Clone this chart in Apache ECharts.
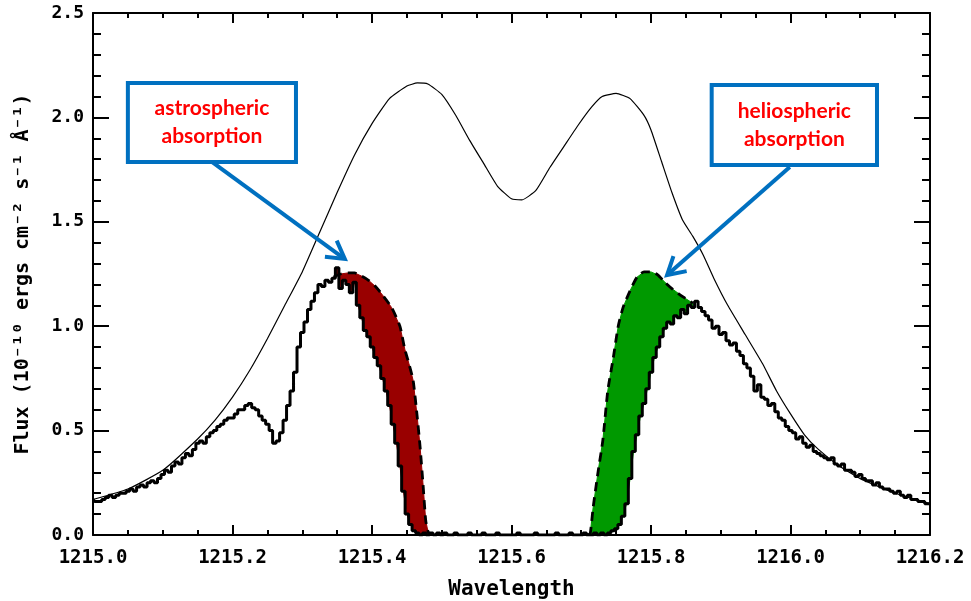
<!DOCTYPE html>
<html>
<head>
<meta charset="utf-8">
<script src="https://cdn.jsdelivr.net/npm/echarts@6/dist/echarts.min.js"></script>
<style>
html,body{margin:0;padding:0;background:#fff;}
#chart{width:971px;height:601px;}
</style>
</head>
<body>
<div id="chart"></div>
<script>
// ---------- DATA ----------
const obsStart = 1215.0;
const obsStep = 0.005;
// observed flux (histogram bins, 0.005 A apart, 1215.000 .. 1216.200)
const observedFlux = [
  0.17,0.16,0.16,0.17,0.18,0.19,0.18,0.19,0.20,0.20,
  0.21,0.22,0.21,0.23,0.24,0.23,0.25,0.26,0.25,0.27,
  0.29,0.31,0.30,0.33,0.35,0.34,0.37,0.39,0.38,0.41,
  0.44,0.45,0.44,0.47,0.49,0.50,0.52,0.53,0.55,0.56,
  0.56,0.58,0.60,0.60,0.62,0.63,0.61,0.60,0.57,0.55,
  0.53,0.50,0.44,0.45,0.49,0.55,0.62,0.69,0.78,0.90,
  0.97,1.02,1.08,1.12,1.16,1.20,1.19,1.22,1.21,1.23,
  1.28,1.18,1.22,1.20,1.16,1.21,1.10,1.04,0.98,0.95,
  0.90,0.85,0.81,0.75,0.69,0.62,0.53,0.44,0.33,0.21,
  0.10,0.05,0.02,0.01,0.00,0.01,0.00,0.01,0.00,0.01,
  0.00,0.01,0.00,0.00,0.01,0.00,0.00,0.00,0.01,0.00,
  0.00,0.00,0.01,0.00,0.00,0.00,0.01,0.00,0.00,0.00,
  0.00,0.00,0.01,0.00,0.00,0.00,0.00,0.01,0.00,0.00,
  0.00,0.00,0.00,0.01,0.00,0.00,0.00,0.01,0.00,0.00,
  0.00,0.01,0.00,0.00,0.01,0.00,0.01,0.00,0.01,0.02,
  0.03,0.05,0.09,0.15,0.27,0.40,0.48,0.57,0.63,0.70,
  0.78,0.85,0.90,0.95,0.99,1.02,1.01,1.05,1.04,1.08,
  1.06,1.10,1.09,1.12,1.09,1.07,1.05,1.03,0.99,1.00,
  0.96,0.97,0.93,0.91,0.92,0.88,0.86,0.82,0.80,0.76,
  0.69,0.72,0.66,0.65,0.62,0.63,0.59,0.56,0.55,0.52,
  0.50,0.49,0.46,0.47,0.44,0.42,0.43,0.40,0.39,0.38,
  0.37,0.36,0.37,0.34,0.33,0.34,0.31,0.31,0.30,0.28,
  0.29,0.27,0.26,0.26,0.24,0.25,0.23,0.22,0.22,0.21,
  0.20,0.21,0.19,0.18,0.19,0.17,0.17,0.16,0.16,0.15,
  0.15
];
// intrinsic (unabsorbed) Lyman-alpha profile
const intrinsicWave = [1215.00,1215.05,1215.10,1215.15,1215.175,1215.20,1215.225,1215.25,1215.275,1215.30,
  1215.325,1215.35,1215.375,1215.40,1215.425,1215.45,1215.465,1215.48,1215.50,1215.52,
  1215.54,1215.56,1215.58,1215.60,1215.615,1215.635,1215.655,1215.675,1215.695,1215.715,
  1215.73,1215.75,1215.77,1215.79,1215.80,1215.815,1215.83,1215.845,1215.86,1215.875,
  1215.89,1215.91,1215.935,1215.96,1215.98,1216.00,1216.02,1216.04,1216.07,1216.10,
  1216.15,1216.20];
const intrinsicFlux = [0.17,0.22,0.31,0.46,0.55,0.66,0.79,0.94,1.10,1.26,
  1.45,1.64,1.82,1.97,2.09,2.15,2.165,2.16,2.11,2.01,
  1.89,1.78,1.67,1.61,1.605,1.65,1.76,1.86,1.96,2.05,
  2.10,2.115,2.09,2.01,1.94,1.79,1.64,1.51,1.43,1.34,
  1.23,1.10,0.96,0.82,0.69,0.58,0.48,0.41,0.33,0.27,
  0.20,0.15];
// model with ISM absorption only (blue side)
const astroModelWave = [1215.345,1215.355,1215.365,1215.375,1215.385,1215.395,1215.405,1215.415,1215.428,1215.440,
  1215.447,1215.453,1215.459,1215.465,1215.469,1215.473,1215.477,1215.480,1215.483];
const astroModelFlux = [1.235,1.25,1.255,1.255,1.24,1.22,1.19,1.15,1.09,1.00,
  0.89,0.82,0.74,0.56,0.42,0.25,0.07,0.02,0.00];
// model with ISM absorption only (red side)
const helioModelWave = [1215.710,1215.713,1215.717,1215.724,1215.731,1215.738,1215.746,1215.753,1215.760,1215.770,
  1215.780,1215.790,1215.800,1215.810,1215.820,1215.830,1215.846,1215.860];
const helioModelFlux = [0.00,0.01,0.13,0.30,0.455,0.69,0.85,1.00,1.09,1.17,
  1.235,1.26,1.26,1.245,1.21,1.18,1.14,1.11];

const annotations = [
  {lines:['astrospheric','absorption'], box:[1215.050,2.165,1215.291,1.786], from:[1215.171,1.786], to:[1215.361,1.322]},
  {lines:['heliospheric','absorption'], box:[1215.887,2.155,1216.124,1.772], from:[1215.999,1.762], to:[1215.823,1.245]}
];

// ---------- BUILD ----------
const obsPts = observedFlux.map((f,i)=>[+(obsStart+i*obsStep).toFixed(3), f]);
const intrinsicPts = intrinsicWave.map((w,i)=>[w,intrinsicFlux[i]]);
const astroPts = astroModelWave.map((w,i)=>[w,astroModelFlux[i]]);
const helioPts = helioModelWave.map((w,i)=>[w,helioModelFlux[i]]);

function band(model){
  const lo = model[0][0], hi = model[model.length-1][0];
  const obs = obsPts.filter(p=>p[0]>=lo-1e-9 && p[0]<=hi+1e-9).slice().reverse();
  return model.concat(obs);
}
const astroBand = band(astroPts);
const helioBand = band(helioPts);

function bandSeries(poly,color){
  return {
    type:'custom', data:[[poly[0][0],poly[0][1]]], z:1, silent:true,
    renderItem:function(params,api){
      return {type:'polygon', shape:{points:poly.map(p=>api.coord(p))},
        style:{fill:color, stroke:color, lineWidth:1}};
    }
  };
}

const monoFont = 'DejaVu Sans Mono';
const chart = echarts.init(document.getElementById('chart'));
const xCommon = {
  type:'value', min:1215.0, max:1216.2, interval:0.2,
  axisLine:{show:true,onZero:false,lineStyle:{color:'#000',width:2}},
  axisTick:{show:true,inside:true,length:10,lineStyle:{color:'#000',width:2}},
  minorTick:{show:true,splitNumber:4,length:5,lineStyle:{color:'#000',width:2}},
  splitLine:{show:false}
};
const yCommon = {
  type:'value', min:0, max:2.5, interval:0.5,
  axisLine:{show:true,onZero:false,lineStyle:{color:'#000',width:2}},
  axisTick:{show:true,inside:true,length:16,lineStyle:{color:'#000',width:2}},
  minorTick:{show:true,splitNumber:5,length:8,lineStyle:{color:'#000',width:2}},
  splitLine:{show:false}
};
chart.setOption({
  animation:false,
  backgroundColor:'#fff',
  grid:{left:93,right:41,top:13,bottom:66,containLabel:false,outerBoundsMode:'none'},
  xAxis:[
    Object.assign({}, xCommon, {position:'bottom',
      name:'Wavelength', nameLocation:'middle', nameGap:44,
      nameTextStyle:{fontFamily:monoFont,fontWeight:'bold',fontSize:21,color:'#000'},
      axisLabel:{margin:14,fontFamily:monoFont,fontWeight:'bold',fontSize:19,color:'#000',
        formatter:v=>v.toFixed(1)}}),
    Object.assign({}, xCommon, {position:'top', axisLabel:{show:false}})
  ],
  yAxis:[
    Object.assign({}, yCommon, {position:'left',
      name:'Flux (10\u207B\u00B9\u2070 ergs cm\u207B\u00B2 s\u207B\u00B9 \u00C5\u207B\u00B9)',
      nameLocation:'middle', nameGap:60, nameRotate:90,
      nameTextStyle:{fontFamily:monoFont,fontWeight:'bold',fontSize:20,color:'#000'},
      axisLabel:{margin:9,fontFamily:monoFont,fontWeight:'bold',fontSize:18,color:'#000',
        formatter:v=>v.toFixed(1)}}),
    Object.assign({}, yCommon, {position:'right', axisLabel:{show:false}})
  ],
  series:[
    bandSeries(astroBand,'#990000'),
    bandSeries(helioBand,'#009900'),
    {type:'line', data:intrinsicPts, smooth:0.15, showSymbol:false, z:3,
      lineStyle:{color:'#000',width:1.2}},
    {type:'line', data:obsPts, step:'middle', showSymbol:false, z:4,
      lineStyle:{color:'#000',width:3}},
    {type:'line', data:astroPts, smooth:0.2, showSymbol:false, z:5,
      lineStyle:{color:'#000',width:2.8,type:[9,6]}},
    {type:'line', data:helioPts, smooth:0.2, showSymbol:false, z:5,
      lineStyle:{color:'#000',width:2.8,type:[9,6]}}
  ]
});

// annotations (anchored in data coordinates)
const graphics = [];
const blue = '#0070C0';
annotations.forEach(a=>{
  const p1 = chart.convertToPixel({gridIndex:0},[a.box[0],a.box[1]]);
  const p2 = chart.convertToPixel({gridIndex:0},[a.box[2],a.box[3]]);
  const s = chart.convertToPixel({gridIndex:0},a.from);
  const t = chart.convertToPixel({gridIndex:0},a.to);
  const dx=t[0]-s[0], dy=t[1]-s[1], L=Math.hypot(dx,dy), ux=dx/L, uy=dy/L;
  const ah=20, ang=Math.PI/6;
  const w1=[t[0]-ah*(ux*Math.cos(ang)-uy*Math.sin(ang)), t[1]-ah*(uy*Math.cos(ang)+ux*Math.sin(ang))];
  const w2=[t[0]-ah*(ux*Math.cos(-ang)-uy*Math.sin(-ang)), t[1]-ah*(uy*Math.cos(-ang)+ux*Math.sin(-ang))];
  graphics.push({type:'line', z:100, shape:{x1:s[0],y1:s[1],x2:t[0]-ux*2,y2:t[1]-uy*2},
    style:{stroke:blue,lineWidth:4}});
  graphics.push({type:'polyline', z:100, shape:{points:[w1,t,w2]},
    style:{stroke:blue,lineWidth:4,fill:null,lineJoin:'miter'}});
  graphics.push({type:'rect', z:101, shape:{x:p1[0],y:p1[1],width:p2[0]-p1[0],height:p2[1]-p1[1]},
    style:{fill:'#fff',stroke:blue,lineWidth:4}});
  const cx=(p1[0]+p2[0])/2, cy=(p1[1]+p2[1])/2;
  graphics.push({type:'text', z:102, x:cx, y:cy,
    style:{text:a.lines.join('\n'), fill:'#ff0000', font:'bold 21px Lato', align:'center',
      verticalAlign:'middle', lineHeight:28}});
});
chart.setOption({graphic:graphics});
</script>
</body>
</html>
